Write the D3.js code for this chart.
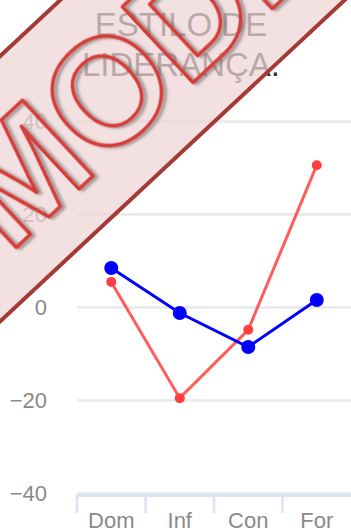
<!DOCTYPE html>
<html>
<head>
<meta charset="utf-8">
<script src="https://cdn.jsdelivr.net/npm/d3@7"></script>
<style>
  body { margin: 0; background: #fff; }
  text { font-family: "Liberation Sans", Arial, sans-serif; }
</style>
</head>
<body>
<div id="d3id"></div>
<script>
var categorias = ["Dom", "Inf", "Con", "For"]
var serieAzul = [8.4, -1.3, -8.6, 1.5]
var serieVermelha = [5.4, -19.6, -4.9, 30.5]
var yTicks = [-40, -20, 0, 20, 40]
var titulo = ["ESTILO DE", "LIDERANÇA."]

var width = 351, height = 532

var svg = d3.select("#d3id")
  .append("svg")
  .attr("width", width)
  .attr("height", height)

var x = d3.scaleBand()
  .domain(categorias)
  .range([77, 351])

var y = d3.scaleLinear()
  .domain([-40, 40])
  .range([493, 121])

// grid
var grid = svg.append("g")
  .attr("transform", "translate(77,0)")
  .call(d3.axisRight(y).tickValues(yTicks).tickSize(width - 77).tickFormat(""))
grid.select(".domain").remove()
grid.selectAll("line").attr("stroke", "#e8e8e8").attr("stroke-width", 2.5)

// y labels
var yAxis = svg.append("g")
  .attr("transform", "translate(47,0)")
  .call(d3.axisLeft(y).tickValues(yTicks).tickSize(0).tickPadding(0))
yAxis.select(".domain").remove()
yAxis.selectAll("text")
  .attr("font-size", 22)
  .attr("fill", "#8a8a8a")
  .style("font-family", "Liberation Sans, Arial, sans-serif")

// x axis
var xAxis = svg.append("g")
  .attr("transform", "translate(0,495)")
  .call(d3.axisBottom(x).tickSize(0).tickPadding(17))
xAxis.select(".domain").attr("stroke", "#dce3f0").attr("stroke-width", 3)
xAxis.selectAll("text")
  .attr("font-size", 22)
  .attr("fill", "#8a8a8a")
  .style("font-family", "Liberation Sans, Arial, sans-serif")

svg.append("g")
  .selectAll("line")
  .data(categorias)
  .enter()
  .append("line")
  .attr("x1", function (d) { return x(d) })
  .attr("x2", function (d) { return x(d) })
  .attr("y1", 495)
  .attr("y2", 513)
  .attr("stroke", "#dce3f0")
  .attr("stroke-width", 2.5)

// series
var linha = d3.line()
  .x(function (d, i) { return x(categorias[i]) + x.bandwidth() / 2 })
  .y(function (d) { return y(d) })

svg.append("path")
  .datum(serieVermelha)
  .attr("d", linha)
  .attr("fill", "none")
  .attr("stroke", "#ff4a4a")
  .attr("stroke-opacity", 0.9)
  .attr("stroke-width", 3)

svg.append("path")
  .datum(serieAzul)
  .attr("d", linha)
  .attr("fill", "none")
  .attr("stroke", "#0000ff")
  .attr("stroke-width", 3)

svg.selectAll("circAzul")
  .data(serieAzul)
  .enter()
  .append("circle")
  .attr("cx", function (d, i) { return x(categorias[i]) + x.bandwidth() / 2 })
  .attr("cy", function (d) { return y(d) })
  .attr("r", 7)
  .attr("fill", "#0000ff")

svg.selectAll("circVermelho")
  .data(serieVermelha)
  .enter()
  .append("circle")
  .attr("cx", function (d, i) { return x(categorias[i]) + x.bandwidth() / 2 })
  .attr("cy", function (d) { return y(d) })
  .attr("r", 5)
  .attr("fill", "#ff4040")

// title
svg.append("g")
  .selectAll("text")
  .data(titulo)
  .enter()
  .append("text")
  .attr("x", 181)
  .attr("y", function (d, i) { return 36 + i * 40 })
  .attr("text-anchor", "middle")
  .attr("font-size", 33)
  .attr("fill", "#333")
  .text(function (d) { return d })

// watermark
var defs = svg.append("defs")
var f = defs.append("filter").attr("id", "sombra")
  .attr("x", "-20%").attr("y", "-20%").attr("width", "140%").attr("height", "140%")
f.append("feDropShadow")
  .attr("dx", 2).attr("dy", 3).attr("stdDeviation", 1.5)
  .attr("flood-color", "#555").attr("flood-opacity", 0.6)

var marca = svg.append("g")
  .attr("transform", "translate(106,90) rotate(-43)")

marca.append("rect")
  .attr("x", -500).attr("y", -97)
  .attr("width", 1000).attr("height", 194)
  .attr("fill", "rgb(238,214,214)")
  .attr("fill-opacity", 0.72)

marca.selectAll("borda")
  .data([-97, 97])
  .enter()
  .append("line")
  .attr("x1", -500).attr("x2", 500)
  .attr("y1", function (d) { return d })
  .attr("y2", function (d) { return d })
  .attr("stroke", "#a33a36")
  .attr("stroke-width", 4)

marca.append("text")
  .attr("x", -183)
  .attr("y", 54)
  .attr("font-size", 150)
  .attr("font-weight", "bold")
  .attr("fill", "none")
  .attr("stroke", "#d63c38")
  .attr("stroke-width", 3.5)
  .attr("stroke-linejoin", "round")
  .attr("filter", "url(#sombra)")
  .text("MODELO")
</script>
</body>
</html>
